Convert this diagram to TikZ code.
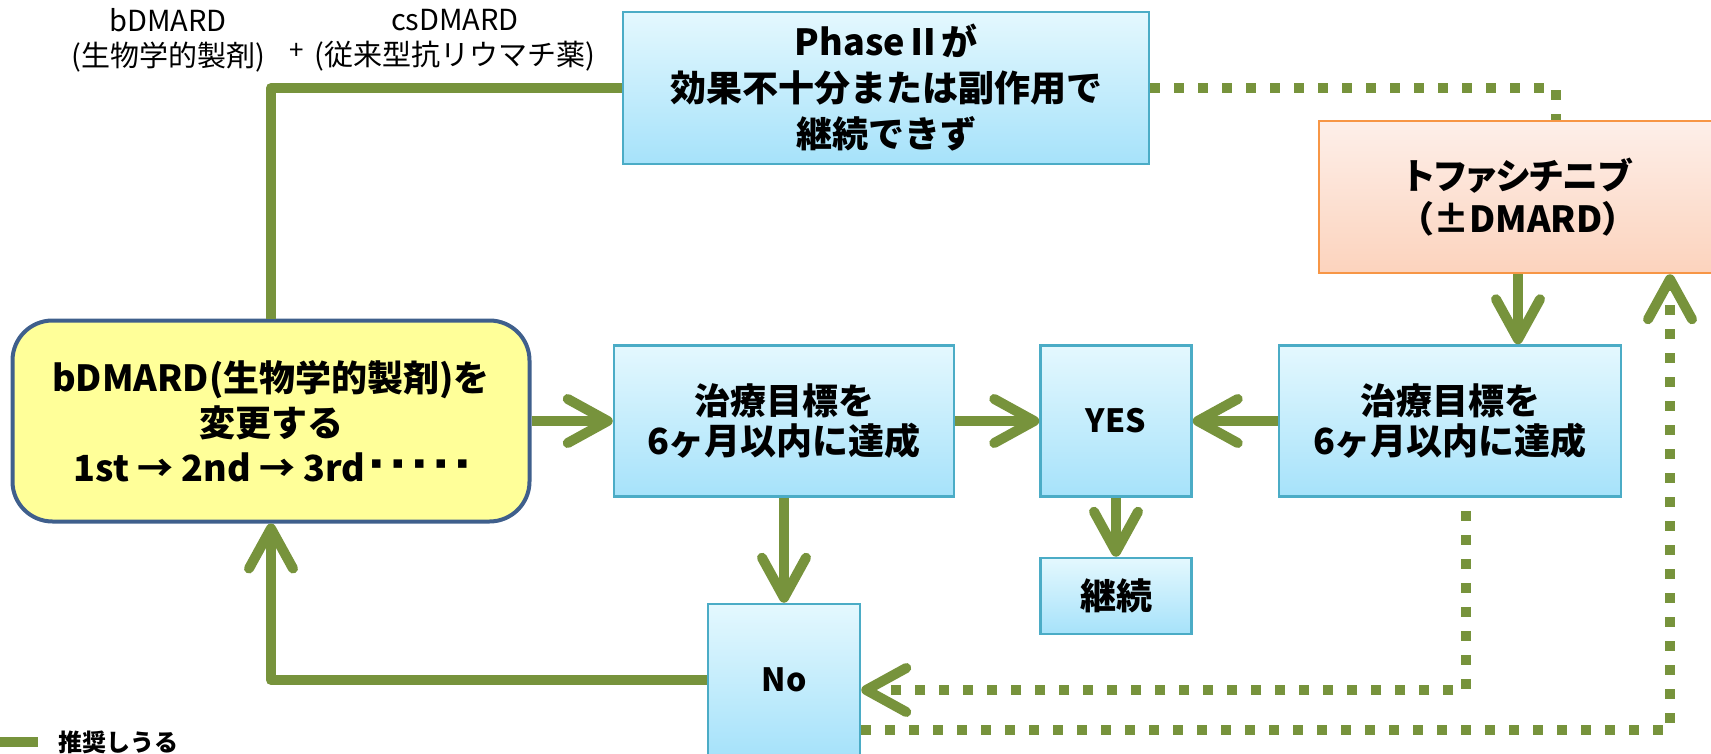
\documentclass[tikz,border=0pt]{standalone}
\usepackage{fontspec}
\setmainfont{Noto Sans CJK JP}
\newfontfamily\jpnarrow{Noto Sans CJK JP}[RawFeature=+palt]
\newfontfamily\dotfont{DejaVu Sans}
\newcommand{\sqdot}{\hspace{5pt}{\dotfont\fontsize{17}{17}\selectfont\raisebox{13pt}{▪}}\hspace{5pt}}
\usetikzlibrary{arrows.meta}
\definecolor{okgreen}{HTML}{77933C}
\definecolor{boxline}{HTML}{4BACC6}
\definecolor{boxtop}{HTML}{E4F8FE}
\definecolor{boxbot}{HTML}{A6E2FA}
\definecolor{tofaline}{HTML}{F79646}
\definecolor{tofatop}{HTML}{FDEFE9}
\definecolor{tofabot}{HTML}{FCD3BD}
\definecolor{drugfill}{HTML}{FFFF99}
\definecolor{drugline}{HTML}{3F5F8C}
\begin{document}
\begin{tikzpicture}[x=1pt, y=-1pt,
cell/.style={align=center, inner sep=0pt, font={\bfseries\fontsize{36}{46}\selectfont}},
box/.style={cell, draw=boxline, line width=2.5pt, top color=boxtop, bottom color=boxbot},
ok/.style={draw=okgreen, line width=10pt, line join=round},
okdot/.style={ok, dash pattern=on 10pt off 14pt},
tip/.style={-{Straight Barb[length=40pt,width=44pt,round]}},
note/.style={align=center, inner sep=0pt, font={\fontsize{29}{35}\selectfont}}]

\useasboundingbox (0,0) rectangle (1711,754);

\node[note] (bio) at (168,40) {bDMARD\\(生物学的製剤)};
\node[note, font={\fontsize{26}{28}\selectfont}] (plus) at (297,51) {+};
\node[note] (conv) at (455,40) {csDMARD\\(従来型抗リウマチ薬)};

\node[box, minimum width=526pt, minimum height=152pt] (phase) at (886,88) {PhaseⅡが\\効果不十分または副作用で\\継続できず};
\node[box, draw=tofaline, top color=tofatop, bottom color=tofabot, minimum width=398pt, minimum height=152pt, font={\jpnarrow\bfseries\fontsize{36}{43}\selectfont}] (tofa) at (1518,197) {トファシチニブ\\（±DMARD）};
\node[cell, draw=drugline, line width=4pt, fill=drugfill, rounded corners=40pt, minimum width=517pt, minimum height=201pt, font={\bfseries\fontsize{36}{45}\selectfont}] (drug) at (271,421) {bDMARD(生物学的製剤)を\\変更する\\1st → 2nd → 3rd\sqdot\sqdot\sqdot\sqdot\sqdot};
\node[box, minimum width=340pt, minimum height=151pt, font={\bfseries\fontsize{36}{40}\selectfont}] (goal1) at (784,421) {治療目標を\\6ヶ月以内に達成};
\node[box, minimum width=151pt, minimum height=151pt, font={\bfseries\fontsize{32}{40}\selectfont}] (yes) at (1116,421) {YES};
\node[box, minimum width=342pt, minimum height=151pt, font={\bfseries\fontsize{36}{40}\selectfont}] (goal2) at (1450,421) {治療目標を\\6ヶ月以内に達成};
\node[box, minimum width=151pt, minimum height=76pt] (keep) at (1116,596) {継続};
\node[box, minimum width=152pt, minimum height=152pt, font={\bfseries\fontsize{32}{40}\selectfont}] (no) at (784,680) {No};

\draw[ok] (phase.west) -| (drug.north);
\draw[okdot] (phase.east) -| ([xshift=38pt]tofa.north);
\draw[ok, tip] (drug) -- (goal1);
\draw[ok, tip] (goal1) -- (yes);
\draw[ok, tip] (goal2) -- (yes);
\draw[ok, tip] (yes) -- (keep);
\draw[ok, tip] (goal1) -- (no);
\draw[ok, tip] (tofa.south) -- (tofa.south |- goal2.north);
\draw[ok, tip] (no.west) -| (drug.south);
\draw[okdot, tip] ([xshift=16pt,yshift=-13pt]goal2.south) |- ([yshift=-10pt]no.east);
\draw[okdot, tip] ([yshift=-50pt]no.east) -| ([xshift=152pt]tofa.south);

\coordinate (keyA) at (0,742);
\coordinate (keyB) at (38,742);
\draw[ok] (keyA) -- (keyB);
\node[anchor=west, inner sep=0pt, font={\bfseries\fontsize{24}{28}\selectfont}] (keytext) at (58,742) {推奨しうる};
\end{tikzpicture}
\end{document}
